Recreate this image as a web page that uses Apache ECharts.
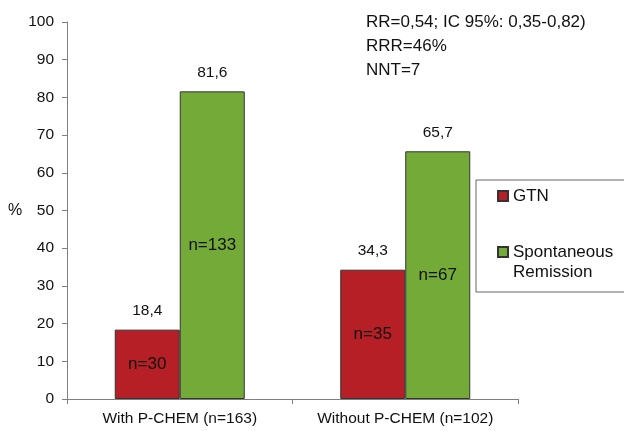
<!DOCTYPE html>
<html><head><meta charset="utf-8">
<script src="https://cdn.jsdelivr.net/npm/echarts@6/dist/echarts.min.js"></script>
<style>html,body{margin:0;padding:0;background:#fff}#c{width:624px;height:431px}</style>
</head><body><div id="c"></div>
<script>
var categories = ['With P-CHEM (n=163)', 'Without P-CHEM (n=102)'];
var gtnValues = [18.4, 34.3];
var remissionValues = [81.6, 65.7];
var gtnCounts = [30, 35];
var remissionCounts = [133, 67];
var yTicks = [0, 10, 20, 30, 40, 50, 60, 70, 80, 90, 100];
var statsText = ['RR=0,54; IC 95%: 0,35-0,82)', 'RRR=46%', 'NNT=7'];

var FONT = 'Liberation Sans, Arial, sans-serif';
var RED = '#B51F25', GREEN = '#74AA38';
function comma(v){ return String(v).replace('.', ','); }

var chart = echarts.init(document.getElementById('c'));
var axisBase = {
  type: 'category', data: categories,
  axisLine: {lineStyle: {color: '#7f7f7f', width: 1}},
  axisTick: {show: true, alignWithLabel: false, length: 5, inside: false, lineStyle: {color: '#7f7f7f'}},
  axisLabel: {color: '#111', fontFamily: FONT, fontSize: 15.5, margin: 12, interval: 0, hideOverlap: false}
};
chart.setOption({
  animation: false,
  title: {
    text: statsText.join('\n'), left: 361, top: 5,
    textStyle: {fontFamily: FONT, fontSize: 17, fontWeight: 'normal', color: '#111', lineHeight: 24}
  },
  legend: {
    orient: 'vertical', left: 476, top: 180, width: 200,
    padding: [6, 14, 10, 21], itemGap: 16,
    borderColor: '#666', borderWidth: 1,
    itemWidth: 10, itemHeight: 10,
    icon: 'rect',
    data: ['GTN', 'Spontaneous\nRemission'],
    formatter: function(name){ return name === 'GTN' ? name : '\n' + name; },
    textStyle: {fontFamily: FONT, fontSize: 17, color: '#111', lineHeight: 20}
  },
  grid: {left: 67, right: 106, top: 22, bottom: 32},
  xAxis: [axisBase, Object.assign({}, axisBase, {show: false})],
  yAxis: {
    type: 'value', min: 0, max: 100, interval: 10,
    name: '%', nameLocation: 'middle', nameRotate: 0, nameGap: 44,
    nameTextStyle: {fontFamily: FONT, fontSize: 16, color: '#111', padding: [0, 0, 16, 0]},
    axisLine: {show: true, lineStyle: {color: '#7f7f7f'}},
    axisTick: {show: true, length: 5, lineStyle: {color: '#7f7f7f'}},
    splitLine: {show: false},
    axisLabel: {color: '#111', fontFamily: FONT, fontSize: 15.5, margin: 13,
      formatter: function(v){ return yTicks.indexOf(v) >= 0 ? String(v) : ''; }}
  },
  series: [
    {name: 'GTN', type: 'bar', data: gtnValues, barWidth: 65, barGap: '0%',
     itemStyle: {color: RED, borderColor: '#333', borderWidth: 1},
     label: {show: true, position: 'top', distance: 11, fontFamily: FONT, fontSize: 15.5, color: '#111',
       formatter: function(p){ return comma(p.value); }}},
    {name: 'Spontaneous\nRemission', type: 'bar', data: remissionValues, barWidth: 65, barGap: '0%',
     itemStyle: {color: GREEN, borderColor: '#333', borderWidth: 1},
     label: {show: true, position: 'top', distance: 11, fontFamily: FONT, fontSize: 15.5, color: '#111',
       formatter: function(p){ return comma(p.value); }}},
    {name: 'gtnN', type: 'bar', xAxisIndex: 1, data: gtnValues, barWidth: 65, barGap: '0%',
     itemStyle: {color: 'rgba(0,0,0,0)'}, silent: true,
     label: {show: true, position: 'inside', fontFamily: FONT, fontSize: 17, color: '#111',
       formatter: function(p){ return 'n=' + gtnCounts[p.dataIndex]; }}},
    {name: 'remN', type: 'bar', xAxisIndex: 1, data: remissionValues, barWidth: 65, barGap: '0%',
     itemStyle: {color: 'rgba(0,0,0,0)'}, silent: true,
     label: {show: true, position: 'inside', fontFamily: FONT, fontSize: 17, color: '#111',
       formatter: function(p){ return 'n=' + remissionCounts[p.dataIndex]; }}}
  ]
});
</script></body></html>
